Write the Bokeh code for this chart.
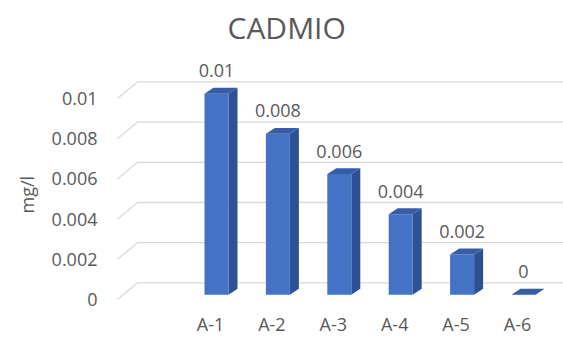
from bokeh.plotting import figure
from bokeh.models import Range1d, FixedTicker, Title, ColumnDataSource
from bokeh.core.properties import value
from bokeh.embed import file_html
from bokeh.resources import INLINE

# ---- data ----
categories = ["A-1", "A-2", "A-3", "A-4", "A-5", "A-6"]
values = [0.01, 0.008, 0.006, 0.004, 0.002, 0]
y_ticks = [0, 0.002, 0.004, 0.006, 0.008, 0.01]
y_tick_labels = ["0", "0.002", "0.004", "0.006", "0.008", "0.01"]

# ---- styling constants (3-D look) ----
FONT = "Open Sans"
TEXT_COLOR = "#595959"
GRID_COLOR = "#d9d9d9"
FRONT = "#4472C4"
SIDE = "#2D5193"
TOP = "#365DA6"

PX_X = 61.4          # pixels per category
PX_Y = 20500.0       # pixels per mg/l
# full floor depth (wall offset)
DEPTH_X, DEPTH_Y = 20 / PX_X, 17 / PX_Y
# bars stand part-way into the floor
BAR_SHIFT_X, BAR_SHIFT_Y = 6 / PX_X, 5 / PX_Y
BAR_HALF = 12 / PX_X
SIDE_X, SIDE_Y = 9 / PX_X, 6 / PX_Y
WALL_START_X = -1.5147
X_END = 5.7492

p = figure(
    width=563, height=338,
    x_range=Range1d(-1.7915, X_END),
    y_range=Range1d(-0.0000976, 0.0122927),
    output_backend="svg", toolbar_location=None,
    min_border_left=100, min_border_right=0,
    min_border_top=50, min_border_bottom=34,
)
p.outline_line_color = None
p.background_fill_color = "white"
p.border_fill_color = "white"
p.xgrid.visible = False
p.ygrid.visible = False

# ---- chart title ----
p.title = Title(text="CADMIO", text_font=FONT, text_font_size="30px",
                text_color=TEXT_COLOR, text_font_style="normal",
                align="left", offset=127, standoff=9)

# ---- vertical axis title ----
p.add_layout(Title(text="mg/l", text_font=FONT, text_font_size="18px",
                   text_color=TEXT_COLOR, text_font_style="normal",
                   align="left", offset=88, standoff=20), "left")

# ---- axes ----
ya = p.yaxis[0]
ya.ticker = FixedTicker(ticks=y_ticks)
ya.major_label_overrides = {t: s for t, s in zip(y_ticks, y_tick_labels)}
ya.axis_line_color = None
ya.major_tick_line_color = None
ya.minor_tick_line_color = None
ya.major_tick_out = 0
ya.major_label_standoff = 3
ya.major_label_text_font = FONT
ya.major_label_text_font_size = "18px"
ya.major_label_text_color = TEXT_COLOR

xa = p.xaxis[0]
xa.ticker = FixedTicker(ticks=list(range(len(categories))))
xa.major_label_overrides = {i: c for i, c in enumerate(categories)}
xa.axis_line_color = None
xa.major_tick_line_color = None
xa.minor_tick_line_color = None
xa.major_tick_out = 0
xa.major_label_standoff = 10
xa.major_label_text_font = FONT
xa.major_label_text_font_size = "18px"
xa.major_label_text_color = TEXT_COLOR

# ---- gridlines: floor diagonal + back wall line ----
grid_xs, grid_ys = [], []
for t in y_ticks:
    grid_xs.append([WALL_START_X, WALL_START_X + DEPTH_X, X_END])
    grid_ys.append([t, t + DEPTH_Y, t + DEPTH_Y])
p.multi_line(grid_xs, grid_ys, line_color=GRID_COLOR, line_width=1.3)

# ---- bars: front face, side face, top face ----
front_l, front_r, front_b, front_t = [], [], [], []
side_xs, side_ys, top_xs, top_ys = [], [], [], []
for i, v in enumerate(values):
    xl = i + BAR_SHIFT_X - BAR_HALF
    xr = i + BAR_SHIFT_X + BAR_HALF
    y0 = BAR_SHIFT_Y
    y1 = v + BAR_SHIFT_Y
    if v > 0:
        front_l.append(xl); front_r.append(xr)
        front_b.append(y0); front_t.append(y1)
        side_xs.append([xr, xr + SIDE_X, xr + SIDE_X, xr])
        side_ys.append([y0, y0 + SIDE_Y, y1 + SIDE_Y, y1])
    top_xs.append([xl, xr, xr + SIDE_X, xl + SIDE_X])
    top_ys.append([y1, y1, y1 + SIDE_Y, y1 + SIDE_Y])

p.patches(side_xs, side_ys, fill_color=SIDE, line_color=None)
p.quad(left=front_l, right=front_r, bottom=front_b, top=front_t,
       fill_color=FRONT, line_color=None)
p.patches(top_xs, top_ys, fill_color=TOP, line_color=None)

# ---- value labels above each bar ----
lab = ColumnDataSource(dict(
    x=[i + BAR_SHIFT_X for i in range(len(values))],
    y=[v + BAR_SHIFT_Y for v in values],
    t=[f"{v:g}" for v in values],
))
p.text(x="x", y="y", text="t", source=lab, text_align="center",
       text_baseline="middle", y_offset=-23, text_font=value(FONT),
       text_font_size="18px", text_color=TEXT_COLOR)

open("out.html", "w").write(file_html(p, INLINE))
